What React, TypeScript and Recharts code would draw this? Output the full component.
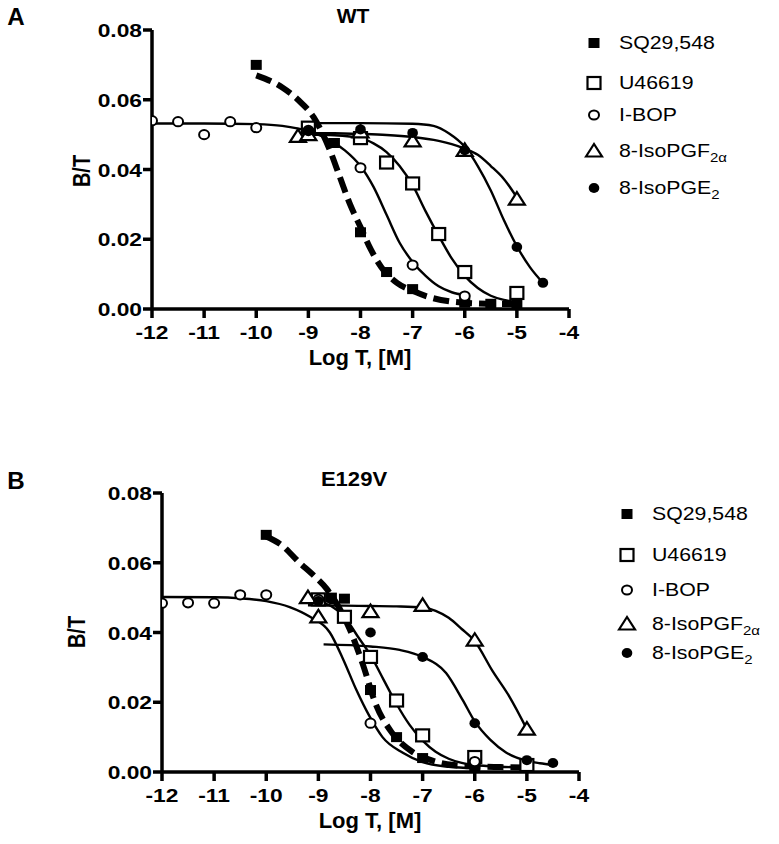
import React from 'react'
import { ComposedChart, Line, Scatter, XAxis, YAxis } from 'recharts'

// axis ticks
const xTicks = [-12, -11, -10, -9, -8, -7, -6, -5, -4]
const yTicks = [0, 0.02, 0.04, 0.06, 0.08]

// ---- Panel A (WT) ----
const sqAX = [-10, -9, -8.5, -8, -7.5, -7, -6, -5.5, -5]
const sqAY = [0.07, 0.05, 0.0476, 0.022, 0.0106, 0.0057, 0.0018, 0.0015, 0.0015]
const sqAFitX = [-10, -9.5, -9.2, -8.9, -8.6, -8.4, -8.2, -8.0, -7.8, -7.6, -7.3, -7.0, -6.7, -6.3, -6.0, -5.5, -5.0]
const sqAFitY = [0.067, 0.0635, 0.06, 0.055, 0.046, 0.038, 0.03, 0.0235, 0.017, 0.012, 0.0075, 0.0052, 0.0035, 0.0022, 0.0018, 0.0015, 0.0014]

const uAX = [-9, -8, -7.5, -7, -6.5, -6, -5]
const uAY = [0.052, 0.049, 0.042, 0.036, 0.0215, 0.0106, 0.0046]
const uAFitX = [-9, -8.5, -8, -7.75, -7.5, -7.25, -7, -6.75, -6.5, -6.25, -6, -5.75, -5.5, -5.25, -5]
const uAFitY = [0.05, 0.0498, 0.049, 0.0475, 0.045, 0.041, 0.0355, 0.028, 0.021, 0.0145, 0.0095, 0.006, 0.0038, 0.0026, 0.002]

const bopAX = [-12, -11.5, -11, -10.5, -10, -9, -8, -7, -6]
const bopAY = [0.054, 0.0537, 0.05, 0.0537, 0.052, 0.0512, 0.0405, 0.0126, 0.0037]
const bopAFitX = [-12, -11, -10, -9.5, -9, -8.6, -8.3, -8, -7.75, -7.5, -7.25, -7, -6.75, -6.5, -6.25, -6]
const bopAFitY = [0.0532, 0.0532, 0.053, 0.0525, 0.051, 0.0485, 0.0455, 0.041, 0.035, 0.027, 0.019, 0.0135, 0.0095, 0.0065, 0.0048, 0.004]

const pgfAX = [-9.2, -9, -8, -7, -6, -5]
const pgfAY = [0.0495, 0.05, 0.0508, 0.0482, 0.0455, 0.0315]
const pgfAFitX = [-9.2, -8.5, -8, -7.5, -7, -6.5, -6.25, -6, -5.75, -5.5, -5.25, -5]
const pgfAFitY = [0.0505, 0.0504, 0.0502, 0.0499, 0.0493, 0.0482, 0.0473, 0.046, 0.0442, 0.041, 0.0373, 0.032]

const pgeAX = [-9, -8, -7, -6, -5, -4.5]
const pgeAY = [0.051, 0.0515, 0.0505, 0.0455, 0.0178, 0.0075]
const pgeAFitX = [-9, -8, -7, -6.6, -6.3, -6, -5.75, -5.5, -5.25, -5, -4.75, -4.5]
const pgeAFitY = [0.0533, 0.0533, 0.0531, 0.0525, 0.0503, 0.0465, 0.041, 0.034, 0.0255, 0.018, 0.012, 0.0075]

// ---- Panel B (E129V) ----
const sqBX = [-10, -9, -8.75, -8.5, -8, -7.5, -7, -6, -5]
const sqBY = [0.068, 0.049, 0.05, 0.0497, 0.0235, 0.01, 0.004, 0.0016, 0.0015]
const sqBFitX = [-10, -9.7, -9.36, -9.1, -8.84, -8.6, -8.4, -8.15, -7.9, -7.6, -7.2, -6.8, -6.4, -6, -5.5, -5]
const sqBFitY = [0.0675, 0.065, 0.06, 0.0565, 0.0525, 0.047, 0.041, 0.031, 0.0195, 0.0115, 0.0058, 0.0032, 0.002, 0.0016, 0.0014, 0.0013]

const uBX = [-9, -8.5, -8, -7.5, -7, -6, -5]
const uBY = [0.0495, 0.0445, 0.033, 0.0205, 0.0105, 0.0043, 0.002]
const uBFitX = [-9, -8.75, -8.5, -8.25, -8, -7.75, -7.5, -7.25, -7, -6.75, -6.5, -6.25, -6, -5.5, -5]
const uBFitY = [0.049, 0.0475, 0.0445, 0.039, 0.0335, 0.0265, 0.0195, 0.0135, 0.009, 0.0058, 0.0038, 0.0026, 0.002, 0.0015, 0.0013]

const bopBX = [-12, -11.5, -11, -10.5, -10, -9, -8, -6]
const bopBY = [0.0484, 0.0485, 0.0484, 0.0508, 0.0508, 0.0495, 0.014, 0.003]
const bopBFitX = [-12, -11, -10.5, -10, -9.55, -9.16, -8.78, -8.53, -8.27, -8.02, -7.77, -7.38, -7, -6.5, -6]
const bopBFitY = [0.0502, 0.0501, 0.0498, 0.049, 0.0473, 0.0445, 0.04, 0.0325, 0.0235, 0.016, 0.01, 0.0055, 0.0028, 0.0015, 0.0011]

const pgfBX = [-9.2, -9, -8, -7, -6, -5]
const pgfBY = [0.05, 0.0445, 0.046, 0.0478, 0.0378, 0.0123]
const pgfBFitX = [-9.2, -8.5, -8, -7.5, -7, -6.75, -6.5, -6.25, -6, -5.66, -5.33, -5]
const pgfBFitY = [0.0478, 0.0477, 0.0476, 0.0475, 0.0472, 0.0462, 0.0442, 0.041, 0.0375, 0.029, 0.0215, 0.0123]

const pgeBX = [-9, -8.75, -8, -7, -6, -5, -4.5]
const pgeBY = [0.049, 0.0495, 0.04, 0.033, 0.014, 0.0034, 0.0026]
const pgeBFitX = [-8.9, -8, -7.44, -7, -6.55, -6.23, -6, -5.7, -5.4, -5, -4.75, -4.5]
const pgeBFitY = [0.0366, 0.036, 0.035, 0.033, 0.0284, 0.0206, 0.0145, 0.0092, 0.0056, 0.0032, 0.0025, 0.002]

type Pt = { x: number; y: number }
const zip = (xs: number[], ys: number[]): Pt[] => xs.map((x, i) => ({ x, y: ys[i] }))

const FONT = '"Liberation Sans", Arial, Helvetica, sans-serif'
const STRETCH = 1.2

// ---- markers ----
/* eslint-disable @typescript-eslint/no-explicit-any */
function FilledSquare({ cx, cy }: any) {
  return <rect x={cx - 5.5} y={cy - 5} width={11} height={10} fill="#000" />
}
function OpenSquare({ cx, cy }: any) {
  return <rect x={cx - 6.5} y={cy - 6} width={13} height={12} fill="#fff" stroke="#000" strokeWidth={2.2} />
}
function OpenCircle({ cx, cy }: any) {
  return <ellipse cx={cx} cy={cy} rx={5} ry={4.6} fill="#fff" stroke="#000" strokeWidth={2} />
}
function OpenTriangle({ cx, cy }: any) {
  return (
    <path
      d={`M${cx - 8},${cy + 5.5} L${cx},${cy - 7} L${cx + 8},${cy + 5.5} Z`}
      fill="#fff"
      stroke="#000"
      strokeWidth={2.2}
    />
  )
}
function FilledCircle({ cx, cy }: any) {
  return <ellipse cx={cx} cy={cy} rx={5.3} ry={5} fill="#000" />
}

function XTick({ x, y, payload }: any) {
  return (
    <g transform={`translate(${x},${y}) scale(${STRETCH},1)`}>
      <text x={0} y={19} textAnchor="middle" fontFamily={FONT} fontWeight="bold" fontSize={19} fill="#000">
        {payload.value}
      </text>
    </g>
  )
}
function YTick({ x, y, payload }: any) {
  return (
    <g transform={`translate(${x},${y}) scale(${STRETCH},1)`}>
      <text x={0} y={7} textAnchor="end" fontFamily={FONT} fontWeight="bold" fontSize={19} fill="#000">
        {Number(payload.value).toFixed(2)}
      </text>
    </g>
  )
}

interface Series {
  pts: Pt[]
  fit: Pt[]
}
interface PanelProps {
  sq: Series
  u: Series
  bop: Series
  pgf: Series
  pge: Series
}

function Panel({ sq, u, bop, pgf, pge }: PanelProps) {
  const axisStyle = { stroke: '#000', strokeWidth: 3.5 }
  return (
    <ComposedChart width={600} height={380} margin={{ top: 30, right: 31, bottom: 31, left: 82 }}>
      <XAxis
        dataKey="x"
        type="number"
        domain={[-12, -4]}
        ticks={xTicks}
        allowDataOverflow
        height={40}
        tickSize={9}
        tickMargin={2}
        axisLine={axisStyle}
        tickLine={axisStyle}
        tick={<XTick />}
        interval={0}
      />
      <YAxis
        dataKey="y"
        type="number"
        domain={[0, 0.08]}
        ticks={yTicks}
        allowDataOverflow
        width={70}
        tickSize={9}
        tickMargin={1}
        axisLine={axisStyle}
        tickLine={axisStyle}
        tick={<YTick />}
        interval={0}
      />
      <Line data={sq.fit} dataKey="y" type="monotone" stroke="#000" strokeWidth={6} strokeDasharray="16 7" dot={false} isAnimationActive={false} />
      <Line data={u.fit} dataKey="y" type="monotone" stroke="#000" strokeWidth={2.4} dot={false} isAnimationActive={false} />
      <Line data={bop.fit} dataKey="y" type="monotone" stroke="#000" strokeWidth={2.4} dot={false} isAnimationActive={false} />
      <Line data={pgf.fit} dataKey="y" type="monotone" stroke="#000" strokeWidth={2.4} dot={false} isAnimationActive={false} />
      <Line data={pge.fit} dataKey="y" type="monotone" stroke="#000" strokeWidth={2.4} dot={false} isAnimationActive={false} />
      <Scatter data={sq.pts} dataKey="y" shape={(p: any) => <FilledSquare {...p} />} isAnimationActive={false} />
      <Scatter data={u.pts} dataKey="y" shape={(p: any) => <OpenSquare {...p} />} isAnimationActive={false} />
      <Scatter data={bop.pts} dataKey="y" shape={(p: any) => <OpenCircle {...p} />} isAnimationActive={false} />
      <Scatter data={pgf.pts} dataKey="y" shape={(p: any) => <OpenTriangle {...p} />} isAnimationActive={false} />
      <Scatter data={pge.pts} dataKey="y" shape={(p: any) => <FilledCircle {...p} />} isAnimationActive={false} />
    </ComposedChart>
  )
}

function Label({ x, y, text, size, rotate = false, stretch = 1.12 }: {
  x: number; y: number; text: string; size: number; rotate?: boolean; stretch?: number
}) {
  return (
    <div
      style={{
        position: 'absolute',
        left: x,
        top: y,
        fontFamily: FONT,
        fontSize: size,
        fontWeight: 'bold',
        lineHeight: 1,
        whiteSpace: 'nowrap',
        transform: rotate
          ? `translate(-50%, -50%) rotate(-90deg) scaleY(1.15)`
          : `translate(-50%, -50%) scaleX(${stretch})`,
      }}
    >
      {text}
    </div>
  )
}

const legendNames = ['SQ29,548', 'U46619', 'I-BOP', '8-IsoPGF', '8-IsoPGE']
const legendSubs = ['', '', '', '2\u03b1', '2']
const legendMarkers = [FilledSquare, OpenSquare, OpenCircle, OpenTriangle, FilledCircle]

function LegendBlock({ markerX, textX, rows }: { markerX: number; textX: number; rows: number[] }) {
  return (
    <>
      {rows.map((ry, i) => {
        const M = legendMarkers[i]
        return (
          <React.Fragment key={legendNames[i]}>
            <svg style={{ position: 'absolute', left: markerX - 10, top: ry - 10 }} width={20} height={20}>
              <M cx={10} cy={10} />
            </svg>
            <div
              style={{
                position: 'absolute',
                left: textX,
                top: ry,
                fontFamily: FONT,
                fontSize: 18.5,
                lineHeight: 1,
                whiteSpace: 'nowrap',
                transformOrigin: 'left center',
                transform: `translateY(-50%) scaleX(1.15)`,
              }}
            >
              {legendNames[i]}
              {legendSubs[i] && (
                <span style={{ fontSize: 13, position: 'relative', top: 5 }}>{legendSubs[i]}</span>
              )}
            </div>
          </React.Fragment>
        )
      })}
    </>
  )
}

export default function App() {
  const panelA: PanelProps = {
    sq: { pts: zip(sqAX, sqAY), fit: zip(sqAFitX, sqAFitY) },
    u: { pts: zip(uAX, uAY), fit: zip(uAFitX, uAFitY) },
    bop: { pts: zip(bopAX, bopAY), fit: zip(bopAFitX, bopAFitY) },
    pgf: { pts: zip(pgfAX, pgfAY), fit: zip(pgfAFitX, pgfAFitY) },
    pge: { pts: zip(pgeAX, pgeAY), fit: zip(pgeAFitX, pgeAFitY) },
  }
  const panelB: PanelProps = {
    sq: { pts: zip(sqBX, sqBY), fit: zip(sqBFitX, sqBFitY) },
    u: { pts: zip(uBX, uBY), fit: zip(uBFitX, uBFitY) },
    bop: { pts: zip(bopBX, bopBY), fit: zip(bopBFitX, bopBFitY) },
    pgf: { pts: zip(pgfBX, pgfBY), fit: zip(pgfBFitX, pgfBFitY) },
    pge: { pts: zip(pgeBX, pgeBY), fit: zip(pgeBFitX, pgeBFitY) },
  }

  return (
    <div style={{ position: 'absolute', left: 0, top: 0, width: 779, height: 844, background: '#fff', overflow: 'hidden' }}>
      <div style={{ position: 'absolute', left: 0, top: 0 }}>
        <Panel {...panelA} />
      </div>
      <div style={{ position: 'absolute', left: 10, top: 463 }}>
        <Panel {...panelB} />
      </div>

      <Label x={16} y={17} text="A" size={23} stretch={1.05} />
      <Label x={353} y={15} text="WT" size={21} stretch={1.0} />
      <Label x={82} y={171} text="B/T" size={20} rotate />
      <Label x={360} y={358} text="Log T, [M]" size={22} stretch={1.0} />

      <Label x={16} y={481} text="B" size={23} stretch={1.05} />
      <Label x={354} y={478} text="E129V" size={21} stretch={1.05} />
      <Label x={77} y={632} text="B/T" size={20} rotate />
      <Label x={370} y={821} text="Log T, [M]" size={22} stretch={1.0} />

      <LegendBlock markerX={594} textX={619} rows={[43, 83, 115, 151, 188]} />
      <LegendBlock markerX={627} textX={652} rows={[514, 555, 590, 624, 653]} />
    </div>
  )
}
